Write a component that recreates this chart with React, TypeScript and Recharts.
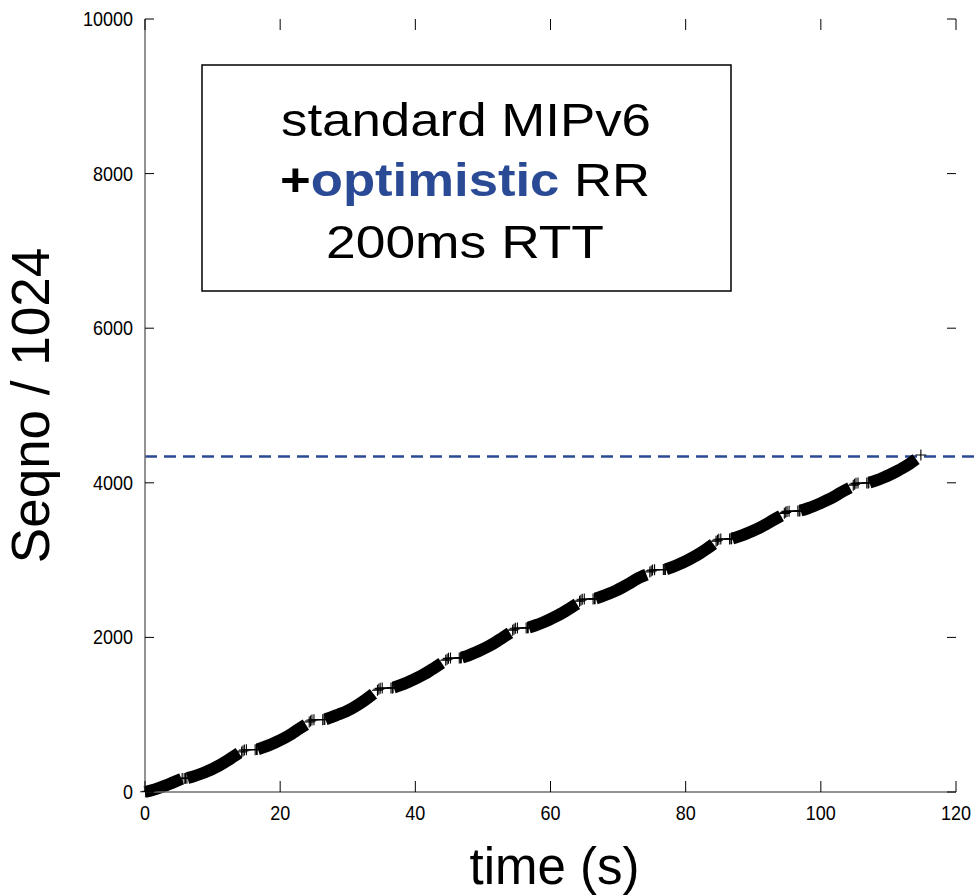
import React from "react";
import { ComposedChart, XAxis, YAxis, Line, ReferenceLine, Label } from "recharts";

// time (s), seqno/1024, one array per stretch of the curve
const band0a: [number, number][] = [[0, 0], [1, 22], [2, 50], [3, 82], [4, 118], [5, 155], [5.4, 170]];
const band0b: [number, number][] = [[6.3, 180], [7.3, 205], [8.3, 236], [9.3, 272], [10.3, 313], [11.3, 360], [12.3, 413], [13.1, 458], [13.9, 505]];
const band1: [number, number][] = [[16.7, 553], [17.7, 583], [18.7, 618], [19.7, 658], [20.7, 703], [21.7, 753], [22.7, 811], [23.8, 871]];
const band2: [number, number][] = [[26.7, 941], [27.7, 972], [28.7, 1006], [29.7, 1040], [30.7, 1085], [31.7, 1138], [32.7, 1198], [33.8, 1270]];
const band3: [number, number][] = [[36.8, 1351], [37.8, 1381], [38.8, 1416], [39.8, 1456], [40.8, 1500], [41.8, 1549], [42.8, 1605], [43.9, 1668]];
const band4: [number, number][] = [[46.9, 1739], [47.9, 1769], [48.9, 1804], [49.9, 1844], [50.9, 1889], [51.9, 1939], [52.9, 1996], [54.0, 2058]];
const band5: [number, number][] = [[56.8, 2128], [57.8, 2157], [58.8, 2190], [59.8, 2228], [60.8, 2271], [61.8, 2318], [62.8, 2372], [63.9, 2433]];
const band6: [number, number][] = [[66.7, 2503], [67.7, 2533], [68.7, 2567], [69.7, 2606], [70.7, 2650], [71.7, 2698], [72.7, 2753], [74.2, 2812]];
const band7: [number, number][] = [[77.1, 2882], [78.1, 2913], [79.1, 2949], [80.1, 2990], [81.1, 3036], [82.1, 3087], [83.1, 3145], [84.1, 3208]];
const band8: [number, number][] = [[86.9, 3279], [87.9, 3307], [88.9, 3339], [89.9, 3376], [90.9, 3417], [91.9, 3463], [92.9, 3515], [94.1, 3573]];
const band9: [number, number][] = [[97.0, 3640], [98.0, 3668], [99.0, 3700], [100.0, 3737], [101.0, 3778], [102.0, 3824], [103.0, 3876], [104.3, 3936]];
const band10: [number, number][] = [[107.2, 4003], [108.2, 4032], [109.2, 4066], [110.2, 4104], [111.2, 4148], [112.2, 4196], [113.2, 4250], [114.1, 4305]];

// sparse packets around each pause, drawn as single "+" marks
const marks0: [number, number][] = [[0.1, 4], [0.4, 10], [0.7, 14], [1.0, 17], [1.2, 19]];
const marks0b: [number, number][] = [[5.5, 174], [5.8, 176], [6.0, 177], [6.2, 178]];
const marks1: [number, number][] = [[14.3, 518], [14.5, 531], [14.7, 543], [15.0, 546], [16.3, 548], [16.5, 549], [16.6, 550]];
const marks2: [number, number][] = [[24.3, 906], [24.5, 919], [24.7, 931], [25.0, 934], [26.3, 936], [26.5, 937], [26.6, 938]];
const marks3: [number, number][] = [[34.4, 1316], [34.6, 1329], [34.8, 1341], [35.1, 1344], [36.4, 1346], [36.6, 1347], [36.7, 1348]];
const marks4: [number, number][] = [[44.5, 1704], [44.7, 1717], [44.9, 1729], [45.2, 1732], [46.5, 1734], [46.7, 1735], [46.8, 1736]];
const marks5: [number, number][] = [[54.4, 2093], [54.6, 2106], [54.8, 2118], [55.1, 2121], [56.4, 2123], [56.6, 2124], [56.7, 2125]];
const marks6: [number, number][] = [[64.3, 2468], [64.5, 2481], [64.7, 2493], [65.0, 2496], [66.3, 2498], [66.5, 2499], [66.6, 2500]];
const marks7: [number, number][] = [[74.7, 2847], [74.9, 2860], [75.1, 2872], [75.4, 2875], [76.7, 2877], [76.9, 2878], [77.0, 2879]];
const marks8: [number, number][] = [[84.5, 3244], [84.7, 3257], [84.9, 3269], [85.2, 3272], [86.5, 3274], [86.7, 3275], [86.8, 3276]];
const marks9: [number, number][] = [[94.6, 3605], [94.8, 3618], [95.0, 3630], [95.3, 3633], [96.6, 3635], [96.8, 3636], [96.9, 3637]];
const marks10: [number, number][] = [[104.8, 3968], [105.0, 3981], [105.2, 3993], [105.5, 3996], [106.8, 3998], [107.0, 3999], [107.1, 4000]];
const marksEnd: [number, number][] = [[114.8, 4360]];

const bands = [band0a, band0b, band1, band2, band3, band4, band5, band6, band7, band8, band9, band10];
const marks = [marks0, marks0b, marks1, marks2, marks3, marks4, marks5, marks6, marks7, marks8, marks9, marks10, marksEnd];

const xTicks = [0, 20, 40, 60, 80, 100, 120];
const yTicks = [0, 2000, 4000, 6000, 8000, 10000];
const finalSeqno = 4340;

const toRows = (seg: [number, number][]) => seg.map(([t, seqno]) => ({ t, seqno }));

const W = 975;
const H = 896;
const M = { top: 19, right: 19, bottom: 0, left: 0 };
const X_AXIS_H = 104;
const Y_AXIS_W = 145;
const plotTop = M.top;
const plotBottom = H - X_AXIS_H;
const plotLeft = Y_AXIS_W;
const plotRight = W - M.right;

const mainFont = "'Liberation Sans', Arial, Helvetica, sans-serif";
const frame = { stroke: "#6e6e6e", strokeWidth: 1.5 };
const noLabel = () => <g />;

// condensed tick numbers plus inward tick marks on both opposite sides
const XTick = (props: any) => {
  const { x, payload } = props;
  const s = String(payload.value);
  return (
    <g>
      <line x1={x} x2={x} y1={plotBottom} y2={plotBottom - 11} stroke="#000" />
      <line x1={x} x2={x} y1={plotTop} y2={plotTop + 11} stroke="#000" />
      <text x={x} y={plotBottom + 28} textAnchor="middle" fontSize={21} fontFamily={mainFont} fill="#000" textLength={s.length * 10} lengthAdjust="spacingAndGlyphs">
        {s}
      </text>
    </g>
  );
};

const YTick = (props: any) => {
  const { payload, y } = props;
  const s = String(payload.value);
  return (
    <g>
      <line x1={plotLeft} x2={plotLeft + 9} y1={y} y2={y} stroke="#000" />
      <line x1={plotRight} x2={plotRight - 9} y1={y} y2={y} stroke="#000" />
      <text x={133} y={y + 7} textAnchor="end" fontSize={21} fontFamily={mainFont} fill="#000" textLength={s.length * 10} lengthAdjust="spacingAndGlyphs">
        {s}
      </text>
    </g>
  );
};

const Plus = (props: any) => {
  const { cx, cy } = props;
  if (cx == null || cy == null) return <g />;
  return <path d={`M${cx - 5.5},${cy}h11M${cx},${cy - 5.5}v11`} stroke="#000" strokeWidth={1.1} fill="none" />;
};

export default function App() {
  return (
    <div style={{ position: "absolute", left: 0, top: 0, width: W, height: H, background: "#fff" }}>
      <ComposedChart width={W} height={H} margin={M}>
        <XAxis
          type="number"
          dataKey="t"
          domain={[0, 120]}
          ticks={xTicks}
          height={X_AXIS_H}
          axisLine={frame}
          tickLine={false}
          tickSize={0}
          tickMargin={0}
          tick={<XTick />}
        >
          <Label value="time (s)" position="insideBottom" offset={12} dx={4} fill="#000" fontSize={51} fontFamily={mainFont} />
        </XAxis>
        <XAxis
          xAxisId="top"
          orientation="top"
          type="number"
          dataKey="t"
          domain={[0, 120]}
          ticks={xTicks}
          height={0}
          axisLine={frame}
          tickLine={false}
          tick={noLabel}
        />
        <YAxis
          type="number"
          domain={[0, 10000]}
          ticks={yTicks}
          width={Y_AXIS_W}
          axisLine={frame}
          tickLine={false}
          tick={<YTick />}
        >
          <Label value="Seqno / 1024" angle={-90} position="insideLeft" offset={30} fill="#000" fontSize={53} fontFamily={mainFont} style={{ textAnchor: "middle" }} />
        </YAxis>
        <YAxis
          yAxisId="right"
          orientation="right"
          type="number"
          domain={[0, 10000]}
          ticks={yTicks}
          width={0}
          axisLine={frame}
          tickLine={false}
          tick={noLabel}
        />
        <ReferenceLine
          segment={[{ x: 0, y: finalSeqno }, { x: 122.8, y: finalSeqno }]}
          ifOverflow="visible"
          stroke="#2b4a94"
          strokeWidth={2.5}
          strokeDasharray="12 7"
        />
        {bands.map((seg, i) => (
          <Line
            key={`band-${i}`}
            data={toRows(seg)}
            dataKey="seqno"
            type="monotone"
            stroke="#000"
            strokeWidth={12}
            strokeLinecap="butt"
            dot={false}
            activeDot={false}
            isAnimationActive={false}
          />
        ))}
        {marks.map((seg, i) => (
          <Line
            key={`marks-${i}`}
            data={toRows(seg)}
            dataKey="seqno"
            type="linear"
            stroke="#000"
            strokeWidth={1.3}
            dot={<Plus />}
            activeDot={false}
            isAnimationActive={false}
          />
        ))}
      </ComposedChart>
      <svg width={W} height={H} style={{ position: "absolute", left: 0, top: 0, pointerEvents: "none" }}>
        <rect x={202} y={65} width={529} height={226} fill="#fff" stroke="#000" strokeWidth={1.5} />
        <text x={281} y={136} fontSize={46} fontFamily={mainFont} fill="#000" textLength={370} lengthAdjust="spacingAndGlyphs">
          standard MIPv6
        </text>
        <text x={280} y={196} fontSize={46} fontFamily={mainFont} fill="#000" textLength={370} lengthAdjust="spacingAndGlyphs">
          <tspan fontWeight="bold">+</tspan>
          <tspan fill="#2a4a96" fontWeight="bold">optimistic</tspan> RR
        </text>
        <text x={326} y={258} fontSize={46} fontFamily={mainFont} fill="#000" textLength={278} lengthAdjust="spacingAndGlyphs">
          200ms RTT
        </text>
      </svg>
    </div>
  );
}
